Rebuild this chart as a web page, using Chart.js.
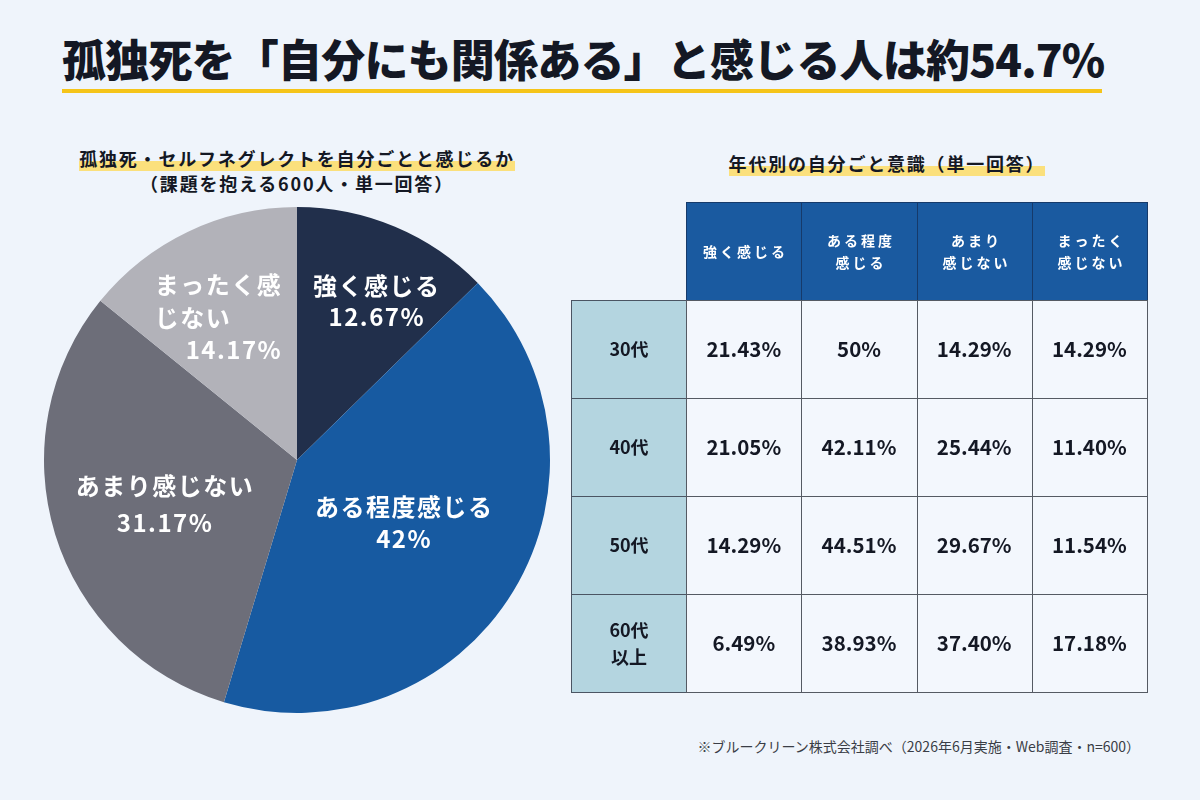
<!DOCTYPE html>
<html lang="ja">
<head>
  <meta charset="utf-8">
  <title>孤独死を「自分にも関係ある」と感じる人は約54.7%</title>
  <style>
    body {
      margin: 0;
      width: 1200px;
      height: 800px;
      background: #eff4fb;
      font-family: 'Noto Sans CJK JP', 'Noto Sans', sans-serif;
      color: #141824;
      position: relative;
      overflow: hidden;
    }
    #title {
      position: absolute;
      left: 62px;
      top: 26px;
      font-size: 44px;
      font-weight: 900;
      letter-spacing: -0.8px;
      white-space: nowrap;
    }
    #titleLine {
      position: absolute;
      left: 62px;
      top: 89px;
      width: 1040px;
      height: 4px;
      background: #f5c419;
    }
    .sub {
      position: absolute;
      width: 500px;
      text-align: center;
      font-size: 18px;
      font-weight: 700;
      letter-spacing: 1.8px;
      line-height: 25px;
    }
    .mark {
      background: linear-gradient(transparent 62%, #fbe07c 62%);
    }
    #pieSub { left: 47px; top: 146px; }
    #tableSub { left: 637px; top: 151px; }
    #note {
      position: absolute;
      right: 60px;
      top: 736px;
      font-size: 14px;
      color: #3a3d46;
      white-space: nowrap;
    }
    #pieChart { position: absolute; left: 40px; top: 203px; }
    #tableChart { position: absolute; left: 566px; top: 197px; }
  </style>
</head>
<body>
  <div id="title">孤独死を「自分にも関係ある」と感じる人は約54.7%</div>
  <div id="titleLine"></div>

  <div class="sub" id="pieSub"><span class="mark">孤独死・セルフネグレクトを自分ごとと感じるか</span><br>（課題を抱える600人・単一回答）</div>
  <div class="sub" id="tableSub"><span class="mark">年代別の自分ごと意識（単一回答）</span></div>

  <canvas id="pieChart" width="514" height="514"></canvas>
  <canvas id="tableChart" width="586" height="500"></canvas>

  <div id="note">※ブルークリーン株式会社調べ（2026年6月実施・Web調査・n=600）</div>

  <script src="https://cdn.jsdelivr.net/npm/chart.js@4.4.1/dist/chart.umd.min.js"></script>
  <script>
    // 円グラフのデータ
    var pieLabels = ['強く感じる', 'ある程度感じる', 'あまり感じない', 'まったく感じない'];
    var pieValues = [12.67, 42, 31.17, 14.17];
    var pieColors = ['#212f4b', '#175aa1', '#6d6e79', '#b2b2b9'];

    // 年代別の表データ
    var ageGroups = ['30代', '40代', '50代', '60代\n以上'];
    var answerHeaders = ['強く感じる', 'ある程度\n感じる', 'あまり\n感じない', 'まったく\n感じない'];
    var strongly = [21.43, 21.05, 14.29, 6.49];
    var somewhat = [50, 42.11, 44.51, 38.93];
    var notMuch = [14.29, 25.44, 29.67, 37.40];
    var notAtAll = [14.29, 11.40, 11.54, 17.18];

    var FONT = '"Noto Sans CJK JP", "Noto Sans", sans-serif';

    function pct(v) {
      return (Number.isInteger(v) ? String(v) : v.toFixed(2)) + '%';
    }

    // ラベルの折り返しと位置調整（見た目だけ）
    var pieLabelLines = [['強く感じる'], ['ある程度感じる'], ['あまり感じない'], ['まったく感', 'じない']];
    var pieLabelShift = [[19, -14], [-27, -18], [18, -2], [-11, -1]];
    var pieLineGap = [31, 32, 37, 33];

    var pieLabelPlugin = {
      id: 'pieLabels',
      afterDatasetsDraw: function (chart) {
        var ctx = chart.ctx;
        var meta = chart.getDatasetMeta(0);
        ctx.save();
        ctx.fillStyle = '#ffffff';
        ctx.font = 'bold 24px ' + FONT;
        ctx.letterSpacing = '1.5px';
        ctx.textBaseline = 'middle';
        meta.data.forEach(function (arc, i) {
          var p = arc.getProps(['x', 'y', 'startAngle', 'endAngle', 'outerRadius'], true);
          var mid = (p.startAngle + p.endAngle) / 2;
          var cx = p.x + Math.cos(mid) * p.outerRadius * 0.62 + pieLabelShift[i][0];
          var cy = p.y + Math.sin(mid) * p.outerRadius * 0.62 + pieLabelShift[i][1];
          var lines = pieLabelLines[i];
          var gap = pieLineGap[i];
          var total = lines.length + 1;
          var top = cy - (total - 1) * gap / 2;
          if (lines.length > 1) {
            // 左揃えのブロック、数値は右寄せ
            var w = Math.max.apply(null, lines.map(function (l) { return ctx.measureText(l).width; }));
            var left = cx - w / 2;
            ctx.textAlign = 'left';
            lines.forEach(function (l, k) { ctx.fillText(l, left, top + k * gap); });
            ctx.textAlign = 'right';
            ctx.fillText(pct(pieValues[i]), left + w, top + lines.length * gap - 1);
          } else {
            ctx.textAlign = 'center';
            ctx.fillText(lines[0], cx, top);
            ctx.fillText(pct(pieValues[i]), cx, top + gap);
          }
        });
        ctx.restore();
      }
    };

    new Chart(document.getElementById('pieChart'), {
      type: 'pie',
      data: {
        labels: pieLabels,
        datasets: [{
          data: pieValues,
          backgroundColor: pieColors,
          borderWidth: 0
        }]
      },
      options: {
        responsive: false,
        animation: false,
        layout: { padding: 4 },
        plugins: { legend: { display: false }, tooltip: { enabled: false } }
      },
      plugins: [pieLabelPlugin]
    });

    // 表はセルごとに点を置き、スケールから枠を描く
    var columns = [strongly, somewhat, notMuch, notAtAll];
    var cellPoints = [];
    columns.forEach(function (col, c) {
      col.forEach(function (v, r) {
        cellPoints.push({ x: c + 1.5, y: r + 1.5, v: v });
      });
    });

    var tablePlugin = {
      id: 'tableCells',
      afterDatasetsDraw: function (chart) {
        var ctx = chart.ctx;
        var xs = chart.scales.x, ys = chart.scales.y;
        function rect(c, r) {
          var x0 = Math.round(xs.getPixelForValue(c)) + 0.5;
          var x1 = Math.round(xs.getPixelForValue(c + 1)) + 0.5;
          var y0 = Math.round(ys.getPixelForValue(r)) + 0.5;
          var y1 = Math.round(ys.getPixelForValue(r + 1)) + 0.5;
          return { x: x0, y: y0, w: x1 - x0, h: y1 - y0, cx: (x0 + x1) / 2, cy: (y0 + y1) / 2 };
        }
        function multiline(text, cx, cy, gap) {
          var lines = text.split('\n');
          var top = cy - (lines.length - 1) * gap / 2;
          lines.forEach(function (l, k) { ctx.fillText(l, cx, top + k * gap); });
        }
        ctx.save();
        ctx.lineWidth = 1;
        ctx.textAlign = 'center';
        ctx.textBaseline = 'middle';

        // 見出し行
        answerHeaders.forEach(function (h, c) {
          var b = rect(c + 1, 0);
          ctx.fillStyle = '#1a5aa0';
          ctx.fillRect(b.x, b.y, b.w, b.h);
          ctx.strokeStyle = '#163a6a';
          ctx.strokeRect(b.x, b.y, b.w, b.h);
          ctx.fillStyle = '#ffffff';
          ctx.font = 'bold 14px ' + FONT;
          ctx.letterSpacing = '3px';
          multiline(h, b.cx + 1.5, b.cy, 22);
        });

        // 年代列
        ageGroups.forEach(function (a, r) {
          var b = rect(0, r + 1);
          ctx.fillStyle = '#b4d5e0';
          ctx.fillRect(b.x, b.y, b.w, b.h);
          ctx.strokeStyle = '#4b5563';
          ctx.strokeRect(b.x, b.y, b.w, b.h);
          ctx.fillStyle = '#141824';
          ctx.font = 'bold 18px ' + FONT;
          ctx.letterSpacing = '0px';
          multiline(a, b.cx, b.cy, 27);
        });

        // 数値セル
        chart.getDatasetMeta(0).data.forEach(function (pt, i) {
          var d = cellPoints[i];
          var b = rect(d.x - 0.5, d.y - 0.5);
          ctx.fillStyle = '#f3f7fd';
          ctx.fillRect(b.x, b.y, b.w, b.h);
          ctx.strokeStyle = '#555a63';
          ctx.strokeRect(b.x, b.y, b.w, b.h);
          ctx.fillStyle = '#141824';
          ctx.font = 'bold 20.5px ' + FONT;
          ctx.letterSpacing = '0px';
          ctx.fillText(pct(d.v), pt.x, pt.y);
        });
        ctx.restore();
      }
    };

    new Chart(document.getElementById('tableChart'), {
      type: 'scatter',
      data: {
        datasets: [{
          data: cellPoints,
          pointRadius: 0,
          pointHoverRadius: 0
        }]
      },
      options: {
        responsive: false,
        animation: false,
        layout: { padding: 5 },
        scales: {
          x: { type: 'linear', min: 0, max: 5, display: false },
          y: { type: 'linear', min: 0, max: 5, reverse: true, display: false }
        },
        plugins: { legend: { display: false }, tooltip: { enabled: false } }
      },
      plugins: [tablePlugin]
    });
  </script>
</body>
</html>
